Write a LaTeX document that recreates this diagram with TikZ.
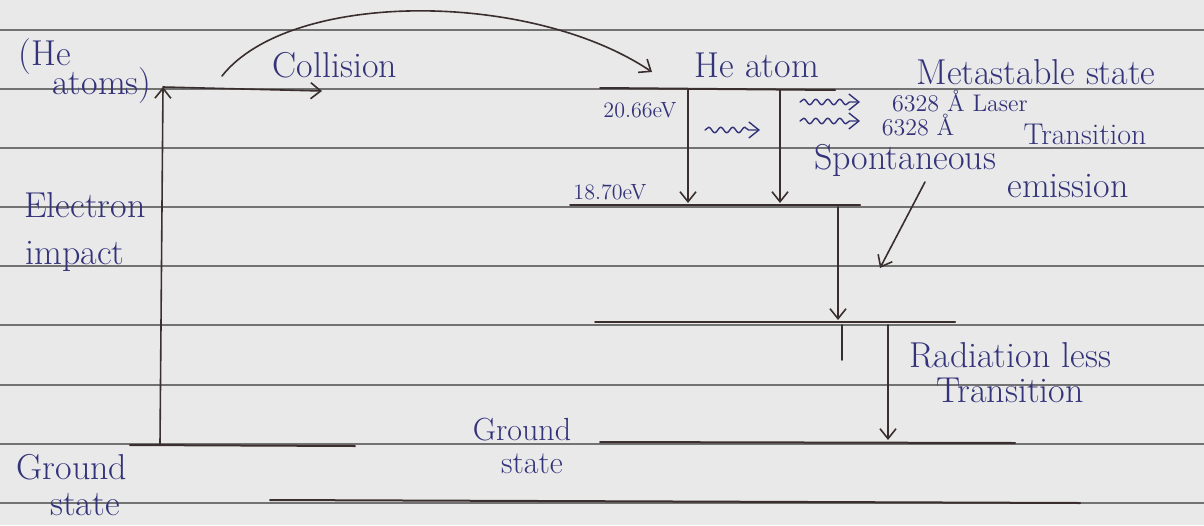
\documentclass[tikz,border=0pt]{standalone}
\usetikzlibrary{arrows.meta,decorations.pathmorphing}
\definecolor{paper}{HTML}{E9E9E9}
\definecolor{ruled}{HTML}{727272}
\definecolor{ink}{HTML}{33337A}
\definecolor{pen}{HTML}{3A2E2E}
\tikzset{
	lvl/.style={pen, line width=1pt},
	jump/.style={pen, line width=0.8pt, ->},
	photon/.style={ink, line width=0.7pt, ->, decorate,
		decoration={snake, amplitude=1.4pt, segment length=6pt, post length=5pt}},
	lab/.style={ink, font=\fontsize{18}{20}\selectfont, inner sep=0pt},
	small/.style={ink, font=\fontsize{11}{13}\selectfont, inner sep=0pt},
}
\begin{document}
\begin{tikzpicture}[x=0.5pt, y=-0.5pt, line join=round, line cap=round, >={Straight Barb[length=5pt,width=8pt]}]
	\useasboundingbox (0,0) rectangle (1204,525);
	\fill[paper] (0,0) rectangle (1204,525);
	% ruled paper
	\foreach \y in {30,89,148,207,266,325,385,444,503}
		\draw[ruled, line width=0.6pt] (0,\y)--(1204,\y);
	% He levels
	\coordinate (heG1) at (130,445); \coordinate (heG2) at (355,446);
	\coordinate (heGa) at (160,444);
	\coordinate (heM1) at (163,87); \coordinate (heM2) at (322,91);
	\draw[lvl] (heG1)--(heG2);
	\draw[jump] (heGa)--(heM1);
	\draw[jump] (heM1)--(heM2);
	% Ne levels
	\coordinate (ne1a) at (600,88); \coordinate (ne1b) at (835,90);
	\coordinate (ne2a) at (570,205); \coordinate (ne2b) at (860,205);
	\coordinate (ne3a) at (595,322); \coordinate (ne3b) at (955,322);
	\coordinate (ne4a) at (600,442); \coordinate (ne4b) at (1015,443);
	\draw[lvl] (ne1a)--(ne1b);
	\draw[lvl] (ne2a)--(ne2b);
	\draw[lvl] (ne3a)--(ne3b);
	\draw[lvl] (ne4a)--(ne4b);
	\draw[lvl] (270,500)--(1080,503);
	% transitions
	\coordinate (t1a) at (688,90); \coordinate (t1b) at (688,203);
	\coordinate (t2a) at (780,90); \coordinate (t2b) at (780,203);
	\coordinate (t3a) at (838,207); \coordinate (t3b) at (838,320);
	\coordinate (t4a) at (888,325); \coordinate (t4b) at (888,440);
	\draw[jump] (t1a)--(t1b);
	\draw[jump] (t2a)--(t2b);
	\draw[jump] (t3a)--(t3b);
	\draw[jump] (t4a)--(t4b);
	\draw[pen, line width=0.8pt] (842,325)--(842,360);
	% collision
	\coordinate (colA) at (222,76); \coordinate (colB) at (652,72);
	\draw[jump] (colA) .. controls (290,-10) and (530,-10) .. (colB);
	% photons
	\draw[photon] (705,130)--(760,130);
	\draw[photon] (800,102)--(860,102);
	\draw[photon] (800,121)--(860,121);
	% labels
	\node[lab] (heA) at (45,57) {(He};
	\node[lab] (heB) at (102,86) {atoms)};
	\node[lab] (coll) at (335,65) {Collision};
	\node[lab] (neat) at (757,65) {He atom};
	\node[lab] (meta) at (1036,72) {Metastable state};
	\node[small] (e1) at (640,110) {20.66eV};
	\node[small] (e2) at (610,192) {18.70eV};
	\node[small, font=\fontsize{12}{14}\selectfont] (las1) at (960,101) {6328 \AA\ Laser};
	\node[small, font=\fontsize{12}{14}\selectfont] (las2) at (918,125) {6328 \AA};
	\node[lab, font=\fontsize{15}{17}\selectfont] (las3) at (1085,134) {Transition};
	\node[lab] (spon) at (905,160) {Spontaneous};
	\node[lab] (emis) at (1068,186) {emission};
	\coordinate (pt) at (880,268);
	\draw[jump] (925,182)--(pt);
	\node[lab] (el1) at (85,205) {Electron};
	\node[lab] (el2) at (75,256) {impact};
	\node[lab] (rad1) at (1010,355) {Radiation less};
	\node[lab] (rad2) at (1010,390) {Transition};
	\node[lab, font=\fontsize{16}{18}\selectfont] (gs1) at (522,430) {Ground};
	\node[lab, font=\fontsize{16}{18}\selectfont] (gs2) at (532,464) {state};
	\node[lab] (gs3) at (72,467) {Ground};
	\node[lab] (gs4) at (85,505) {state};
\end{tikzpicture}
\end{document}
